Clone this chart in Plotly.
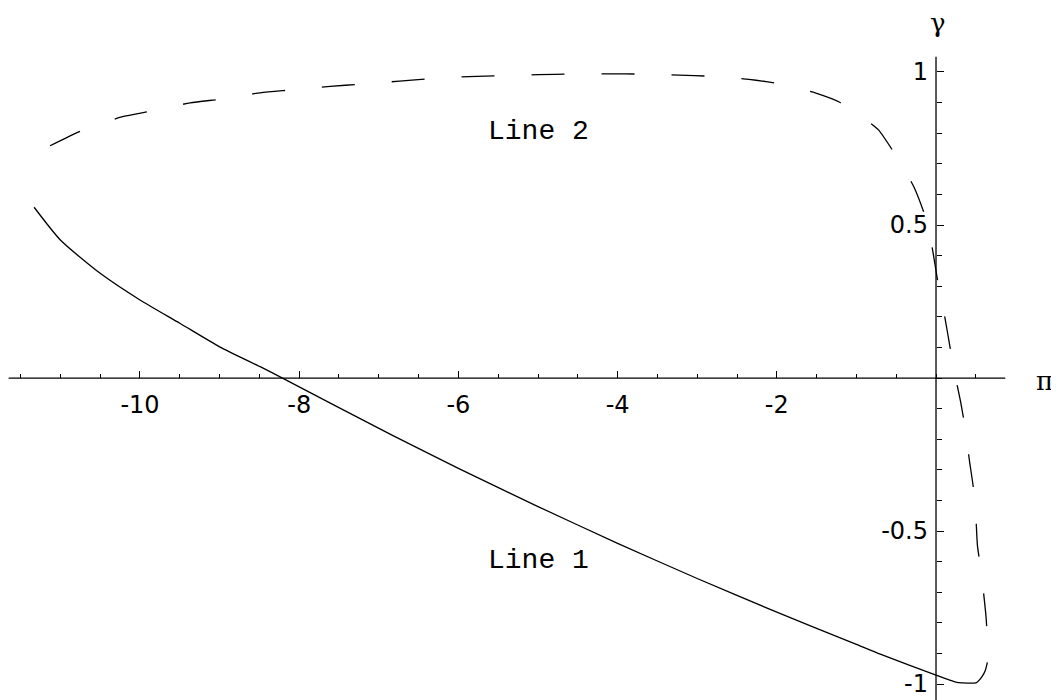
import plotly.graph_objects as go

# ── data ─────────────────────────────────────────────────────────────────────
line1_x = [-11.33, -11.00, -10.50, -10.00, -9.50, -9.00, -8.49, -8.24, -6.84,
           -6.00, -5.00, -4.00, -3.00, -2.00, -1.00, -0.70, 0.00, 0.15, 0.28,
           0.51, 0.58, 0.62, 0.645]
line1_y = [0.558, 0.451, 0.342, 0.255, 0.179, 0.102, 0.037, 0.004, -0.186,
           -0.295, -0.420, -0.540, -0.655, -0.765, -0.870, -0.902, -0.971, -0.985, -0.995,
           -0.995, -0.975, -0.955, -0.929]

line2_x = [-11.13, -10.71, -10.23, -9.84, -9.37, -8.96, -8.49, -8.11, -7.61, -7.23,
           -6.74, -6.35, -5.87, -5.46, -5.00, -4.58, -4.11, -3.71, -3.23, -2.84,
           -2.35, -1.96, -1.50, -1.21, -0.85, -0.72, -0.43, -0.27, -0.12, -0.05,
           0.03, 0.11, 0.17, 0.23, 0.31, 0.37, 0.42, 0.47, 0.50, 0.52,
           0.56, 0.59, 0.63, 0.645, 0.65]
line2_y = [0.759, 0.811, 0.853, 0.873, 0.899, 0.912, 0.932, 0.941, 0.953, 0.960,
           0.970, 0.978, 0.985, 0.988, 0.991, 0.993, 0.994, 0.993, 0.990, 0.986,
           0.976, 0.961, 0.930, 0.901, 0.838, 0.810, 0.696, 0.620, 0.516, 0.429,
           0.304, 0.200, 0.110, 0.021, -0.079, -0.170, -0.270, -0.360, -0.448, -0.546,
           -0.620, -0.684, -0.785, -0.860, -0.930]

x_ticks = [-10, -8, -6, -4, -2]
x_ticktext = ["-10", "-8", "-6", "-4", "-2"]
y_ticks = [-1, -0.5, 0.5, 1]
y_ticktext = ["-1", "-0.5", "0.5", "1"]
x_minor = [round(-11.5 + 0.5 * i, 2) for i in range(25)]   # -11.5 .. 0.5
y_minor = [round(-1.0 + 0.1 * i, 2) for i in range(21)]    # -1 .. 1

# ── view ─────────────────────────────────────────────────────────────────────
# page body has an 8px margin, so the figure is 8px smaller each way
X_RANGE = [-11.658, 1.545]
Y_RANGE = [-1.052, 1.209]
x_axis_pos = (0 - Y_RANGE[0]) / (Y_RANGE[1] - Y_RANGE[0])
y_axis_pos = (0 - X_RANGE[0]) / (X_RANGE[1] - X_RANGE[0])

tick_font = dict(family="DejaVu Sans", size=24, color="black")
mono_font = dict(family="Liberation Mono", size=28, color="black")
greek_font = dict(family="DejaVu Serif", size=26, color="black")

fig = go.Figure()

fig.add_trace(go.Scatter(
    x=line1_x, y=line1_y, mode="lines", name="Line 1",
    line=dict(color="black", width=1.3, shape="spline", smoothing=0.6),
))
fig.add_trace(go.Scatter(
    x=line2_x, y=line2_y, mode="lines", name="Line 2",
    line=dict(color="black", width=1.3, dash="33px,37px", shape="spline", smoothing=0.6),
))

# axis lines crossing at the origin
fig.add_shape(type="line", x0=-11.65, x1=0.87, y0=0, y1=0,
              line=dict(color="black", width=1.3))
fig.add_shape(type="line", x0=0, x1=0, y0=-1.06, y1=1.05,
              line=dict(color="black", width=1.3))

fig.add_annotation(x=0.02, y=1.16, text="γ", showarrow=False, font=greek_font)
fig.add_annotation(x=1.36, y=-0.01, text="π", showarrow=False, font=greek_font)
fig.add_annotation(x=-5.0, y=0.805, text="Line 2", showarrow=False, font=mono_font)
fig.add_annotation(x=-5.0, y=-0.597, text="Line 1", showarrow=False, font=mono_font)

fig.update_layout(
    width=1051, height=692,
    margin=dict(l=0, r=0, t=0, b=0),
    paper_bgcolor="white", plot_bgcolor="white",
    showlegend=False,
    xaxis=dict(
        range=X_RANGE, anchor="free", position=x_axis_pos,
        showgrid=False, zeroline=False, showline=False, automargin=False,
        tickmode="array", tickvals=x_ticks, ticktext=x_ticktext,
        ticks="inside", ticklen=7, tickwidth=1, tickcolor="black",
        ticklabelstandoff=10, tickfont=tick_font,
        minor=dict(tickmode="array", tickvals=x_minor, ticks="inside", ticklen=4,
                   tickwidth=1, tickcolor="black", showgrid=False),
    ),
    yaxis=dict(
        range=Y_RANGE, anchor="free", position=y_axis_pos,
        showgrid=False, zeroline=False, showline=False, automargin=False,
        tickmode="array", tickvals=y_ticks, ticktext=y_ticktext,
        ticks="inside", ticklen=7, tickwidth=1, tickcolor="black",
        ticklabelstandoff=8, tickfont=tick_font,
        minor=dict(tickmode="array", tickvals=y_minor, ticks="inside", ticklen=5,
                   tickwidth=1, tickcolor="black", showgrid=False),
    ),
)

fig.write_html("out.html")
